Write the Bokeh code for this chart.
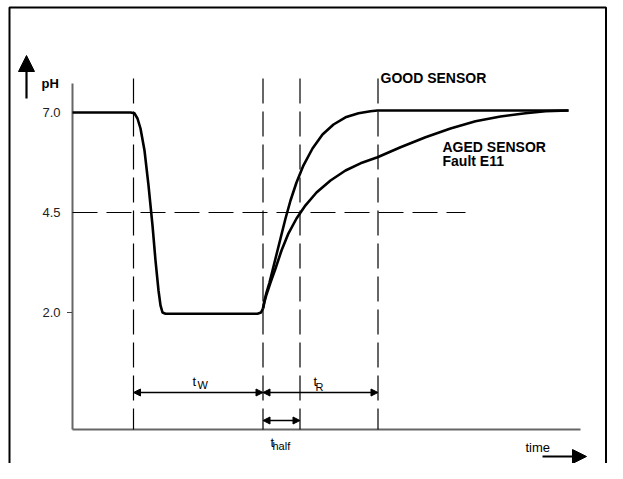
from bokeh.plotting import figure
from bokeh.models import Arrow, NormalHead
from bokeh.core.properties import value
from bokeh.embed import file_html
from bokeh.resources import INLINE

# ---------------- data ----------------
ph_ticks = [7.0, 4.5, 2.0]
ph_tick_labels = ["7.0", "4.5", "2.0"]
minor_tick_levels = [2.0]

# common part of the response (flat 7.0, drop, flat 2.0)
main_t = [0, 5.8, 6.2, 6.5, 6.8, 7.2, 7.6, 8.0, 8.3, 8.6, 8.8, 9.0, 9.3, 18.5, 18.85, 19.05]
main_ph = [7.0, 7.0, 6.98, 6.85, 6.6, 6.05, 5.18, 4.18, 3.3, 2.55, 2.18, 2.0, 1.97, 1.97, 2.0, 2.1]

good_t = [19.05, 19.2, 19.4, 19.7, 20.0, 20.4, 20.8, 21.3, 21.8, 22.4, 23.1, 24.0, 25.0,
          26.1, 27.3, 28.6, 29.8, 30.5, 49.6]
good_ph = [2.1, 2.3, 2.5, 2.75, 3.05, 3.45, 3.85, 4.35, 4.8, 5.25, 5.68, 6.1, 6.45,
           6.7, 6.88, 6.98, 7.03, 7.05, 7.05]

aged_t = [19.05, 19.2, 19.4, 19.8, 20.3, 20.9, 21.6, 22.4, 23.3, 24.4, 25.8, 27.3, 28.8,
          30.5, 32.8, 35.3, 37.8, 40.3, 42.8, 45.3, 47.3, 49.6]
aged_ph = [2.1, 2.27, 2.45, 2.75, 3.1, 3.55, 3.98, 4.35, 4.68, 5.0, 5.3, 5.55, 5.73,
           5.88, 6.13, 6.38, 6.6, 6.78, 6.9, 6.98, 7.03, 7.05]

event_times = [6.1, 19.05, 22.75, 30.55]   # drop, rise start, t_half, recovered
half_level = 4.5
half_line_end = 39.3

axis_ph_bottom = -0.925
axis_ph_top = 7.725
axis_t_end = 50.8
event_line_top = 7.85

# dimension arrows: (start, end, level)
dim_start = [6.1, 19.05, 19.05]
dim_end = [19.05, 30.55, 22.75]
dim_level = [0.0, 0.0, -0.7]

# ---------------- figure ----------------
FONT = value("Liberation Sans")
TS = 0.125  # text baseline correction (data units)

p = figure(width=607, height=463, x_range=(-7.2, 53.5), y_range=(-1.775, 9.8),
           output_backend="svg", toolbar_location=None, min_border=0,
           x_axis_location=None, y_axis_location=None)
p.grid.visible = False
p.outline_line_color = None
p.background_fill_color = "white"
p.border_fill_color = "white"

# outer frame (open at the bottom, as in the original)
p.line([-6.3, -6.3, 53.35, 53.35], [-3, 9.625, 9.625, -3], line_color="black", line_width=2)

# axes lines
p.line([0, 0], [axis_ph_bottom, axis_ph_top], line_color="#666666", line_width=2)
p.line([0, axis_t_end], [axis_ph_bottom, axis_ph_bottom], line_color="#666666", line_width=2)

# tick mark(s)
p.segment(x0=[-0.55] * len(minor_tick_levels), y0=minor_tick_levels,
          x1=[-0.05] * len(minor_tick_levels), y1=minor_tick_levels,
          line_color="#444444", line_width=1.2)

# tick labels
p.text(x=[-1.2] * len(ph_ticks), y=[v - 0.115 + TS for v in ph_ticks], text=ph_tick_labels,
       text_font=FONT, text_font_size="13px", text_align="right",
       text_baseline="alphabetic", text_color="#222222")

# dashed reference lines
p.segment(x0=event_times, y0=[event_line_top] * len(event_times),
          x1=event_times, y1=[axis_ph_bottom] * len(event_times),
          line_color="black", line_width=1.2, line_dash="25 8")
p.segment(x0=[0], y0=[half_level], x1=[half_line_end], y1=[half_level],
          line_color="black", line_width=1.2, line_dash="25 9")

# curves
p.line(main_t, main_ph, line_color="black", line_width=2.6, line_join="round")
p.line(good_t, good_ph, line_color="black", line_width=2.6, line_join="round")
p.line(aged_t, aged_ph, line_color="black", line_width=2.6, line_join="round")

# dimension arrows
for s, e, lv in zip(dim_start, dim_end, dim_level):
    p.add_layout(Arrow(x_start=s, y_start=lv, x_end=e, y_end=lv,
                       line_color="black", line_width=1.5,
                       start=NormalHead(size=7, fill_color="black", line_color="black", line_width=1),
                       end=NormalHead(size=7, fill_color="black", line_color="black", line_width=1)))

# pH arrow and time arrow
p.add_layout(Arrow(x_start=-4.6, y_start=7.35, x_end=-4.6, y_end=8.425,
                   line_color="black", line_width=2.2,
                   end=NormalHead(size=16, fill_color="black", line_color="black", line_width=1)))
p.add_layout(Arrow(x_start=47.0, y_start=-1.6, x_end=51.4, y_end=-1.6,
                   line_color="black", line_width=2.2,
                   end=NormalHead(size=14, fill_color="black", line_color="black", line_width=1)))

# labels
p.text(x=[-3.1], y=[7.6 + TS], text=["pH"], text_font=FONT, text_font_size="13px",
       text_font_style="bold", text_baseline="alphabetic")
p.text(x=[45.3], y=[-1.5 + TS], text=["time"], text_font=FONT, text_font_size="13px",
       text_baseline="alphabetic")
p.text(x=[30.8], y=[7.75 + TS], text=["GOOD SENSOR"], text_font=FONT, text_font_size="14px",
       text_font_style="bold", text_baseline="alphabetic")
p.text(x=[37.0, 37.0], y=[6.025 + TS, 5.675 + TS], text=["AGED SENSOR", "Fault E11"],
       text_font=FONT, text_font_size="14px", text_font_style="bold",
       text_baseline="alphabetic")

# t_W, t_R, t_half
p.text(x=[12.0, 24.1, 19.8], y=[0.15 + TS, 0.15 + TS, -1.375 + TS], text=["t", "t", "t"],
       text_font=FONT, text_font_size="13px", text_baseline="alphabetic")
p.text(x=[12.5, 24.3, 20.0], y=[0.075 + TS, 0.025 + TS, -1.45 + TS], text=["W", "R", "half"],
       text_font=FONT, text_font_size="11px", text_baseline="alphabetic")

open("out.html", "w").write(file_html(p, INLINE))
